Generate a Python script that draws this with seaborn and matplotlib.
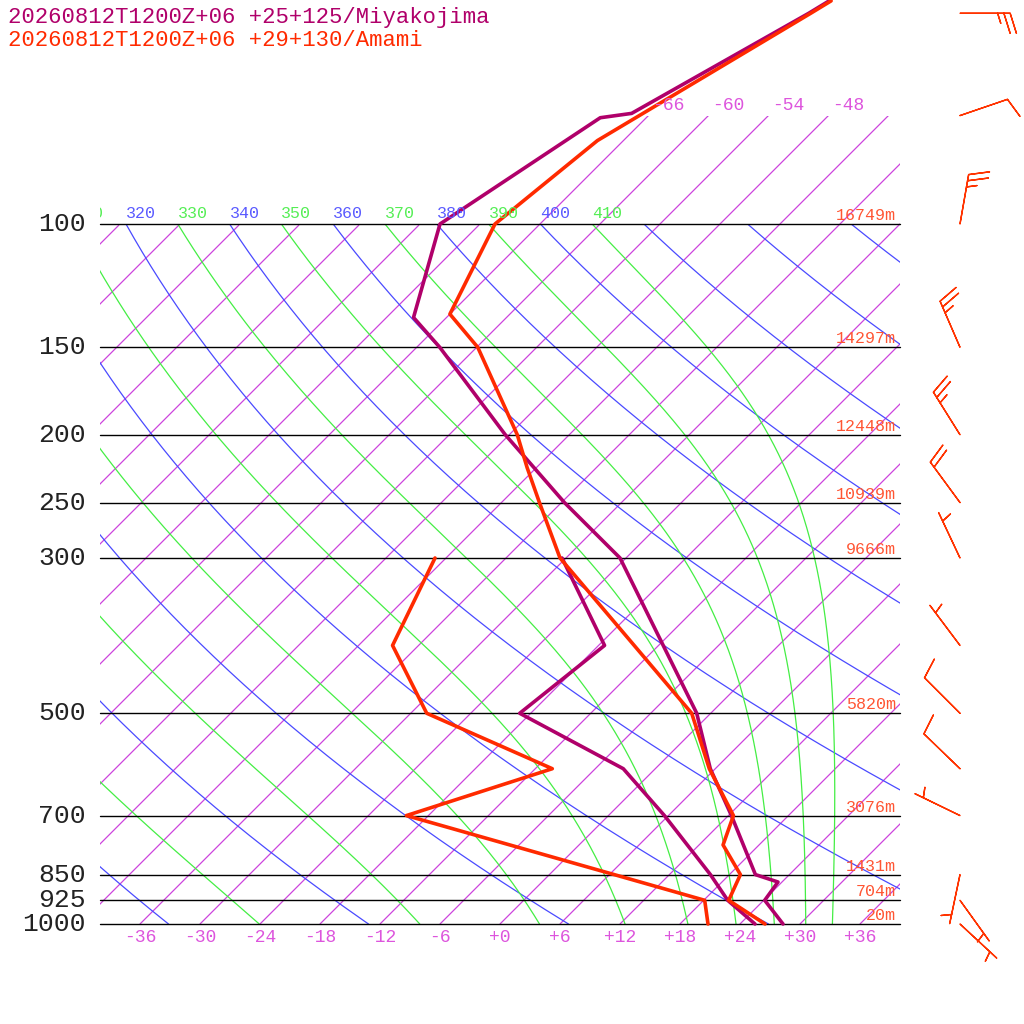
import numpy as np
import matplotlib
matplotlib.use("Agg")
import matplotlib.pyplot as plt
from matplotlib.patches import Rectangle
import seaborn as sns
import pandas as pd

# ---------------- data ----------------
miya_p = [48, 50, 69.5, 70.5, 100, 136, 150, 200, 250, 300, 500, 600, 700, 850, 871, 925, 1000]
miya_t = [-59.4, -60.2, -67.9, -70.6, -76.0, -69.3, -63.7, -48.4, -35.7, -24.6, -1.4, 5.5, 12.3, 20.6, 23.6, 24.1, 28.3]
miya_dp = [300, 400, 500, 600, 700, 850, 925, 1000]
miya_td = [-30.4, -17.4, -19.1, -3.2, 5.6, 16.1, 20.4, 25.5]

amami_p = [48, 50, 76, 100, 134.5, 150, 200, 223, 250, 300, 500, 600, 700, 771, 850, 925, 1000]
amami_t = [-59.2, -60.0, -68.6, -70.5, -66.0, -59.9, -47.2, -42.9, -38.2, -30.6, -1.9, 5.4, 12.5, 14.4, 19.1, 20.5, 26.5]
amami_dp = [300, 400, 500, 600, 700, 925, 1000]
amami_td = [-43.1, -38.6, -28.4, -10.3, -20.2, 18.1, 20.8]

levels = [100, 150, 200, 250, 300, 500, 700, 850, 925, 1000]
heights = ["16749m", "14297m", "12448m", "10939m", "9666m", "5820m", "3076m", "1431m", "704m", "20m"]
temp_ticks = [-36, -30, -24, -18, -12, -6, 0, 6, 12, 18, 24, 30, 36]
theta_labels = [310, 320, 330, 340, 350, 360, 370, 380, 390, 400, 410]

wind_p = [50, 70, 100, 150, 200, 250, 300, 400, 500, 600, 700, 850, 925, 1000]
wind_dx = [47, 38, 7, -16, -20, -22, -16, -24, -28, -29, -35, -8, 23, 28]
wind_dy = [0, 13, 40, 37, 32, 30, 34, 32, 28, 28, 17, -38, -32, -26]   # screen up
wind_kt = [25, 10, 25, 25, 25, 20, 5, 5, 10, 10, 5, 5, 5, 5]

title1 = "20260812T1200Z+06 +25+125/Miyakojima"
title2 = "20260812T1200Z+06 +29+130/Amami"

C_MIYA = "#b0006a"
C_AMAMI = "#ff2a00"
C_ISO = "#cc44dd"
C_DRY = "#4a4aff"
C_MOIST = "#44ee44"

# ---------------- coordinate helpers ----------------
def Y(p):
    return 100 + 700 * np.log10(1000.0 / np.asarray(p, float))

def X(t, p):
    return 500 + 10 * np.asarray(t, float) + 700 * np.log10(1000.0 / np.asarray(p, float))

sns.set_style("white")
plt.rcParams['font.family'] = ['Liberation Mono', 'DejaVu Sans Mono']
fig = plt.figure(figsize=(10.24, 10.24), dpi=100)
ax = fig.add_axes([0, 0, 1, 1])
ax.set_xlim(0, 1024)
ax.set_ylim(0, 1024)
ax.axis("off")

box = Rectangle((100, Y(1000)), 800, Y(100) - Y(1000), transform=ax.transData, fill=False, visible=False)
ax.add_patch(box)
box_iso = Rectangle((100, Y(1000)), 800, Y(70) - Y(1000), transform=ax.transData, fill=False, visible=False)
ax.add_patch(box_iso)

pp = np.logspace(np.log10(70), 3, 200)
# isotherms
for T in range(-126, 60, 6):
    top = 70 if T >= -66 else 100
    pr = pp[pp >= top]
    ln, = ax.plot(X(T, pr), Y(pr), color=C_ISO, lw=0.9)
    ln.set_clip_path(box_iso if T >= -66 else box)
    xe, ye = X(T, 70), Y(70)
    if T >= -66 and 100 < xe < 880:
        ax.text(xe + 4, ye + 2, f"{T:d}", color="#dd55dd", fontsize=13, ha="left", va="bottom")

# dry adiabats
pd_ = np.logspace(2, 3, 200)
for th in range(180, 640, 20):
    t = th * (pd_ / 1000.0) ** 0.2857 - 273.15
    ln, = ax.plot(X(t, pd_), Y(pd_), color=C_DRY, lw=0.9)
    ln.set_clip_path(box)

# moist adiabats (pseudo-adiabats integrated downward from 100 hPa)
def moist(theta):
    Rd, cp, Lv, eps = 287.0, 1004.0, 2.5e6, 0.622
    ps = np.logspace(2, 3, 400)
    T = theta * 0.1 ** 0.2857
    out = [T]
    for i in range(1, len(ps)):
        p = ps[i - 1]
        tc = T - 273.15
        es = 6.112 * np.exp(17.67 * tc / (tc + 243.5))
        rs = eps * es / (p - es)
        dTdp = (Rd * T + Lv * rs) / (cp + Lv * Lv * rs * eps / (Rd * T * T)) / p
        T = T + dTdp * (ps[i] - p)
        out.append(T)
    return ps, np.array(out) - 273.15

for th in range(190, 430, 20):
    ps, t = moist(th)
    ln, = ax.plot(X(t, ps), Y(ps), color=C_MOIST, lw=0.9)
    ln.set_clip_path(box)

# theta labels
clip_lab = Rectangle((100, 0), 1000, 1024, transform=ax.transData, fill=False, visible=False)
ax.add_patch(clip_lab)
for th in theta_labels:
    t = th * 0.1 ** 0.2857 - 273.15
    xl = X(t, 100) + 15
    c = "#5a5aff" if (th // 10) % 2 == 0 else "#55ee55"
    tx = ax.text(xl, Y(100) + 3, str(th), color=c, fontsize=12, ha="center", va="bottom", clip_on=True)
    tx.set_clip_path(clip_lab)

# pressure lines and labels
for p, h in zip(levels, heights):
    ax.plot([100, 900], [Y(p), Y(p)], color="black", lw=1.0)
    ax.text(86, Y(p), str(p), fontsize=19, ha="right", va="center", color="#222222")
    ax.text(896, Y(p) + 1, h, fontsize=12, ha="right", va="bottom", color="#ff5533")

for T in temp_ticks:
    lab = f"+{T}" if T >= 0 else f"{T}"
    ax.text(X(T, 1000), Y(1000) - 13, lab, color="#dd55dd", fontsize=13, ha="center", va="center")

# profiles
def prof(p, t, color):
    df = pd.DataFrame({"x": X(t, p), "y": Y(p)})
    sns.lineplot(data=df, x="x", y="y", sort=False, color=color, lw=2.6, ax=ax, estimator=None)

prof(miya_p, miya_t, C_MIYA)
prof(miya_dp, miya_td, C_MIYA)
prof(amami_p, amami_t, C_AMAMI)
prof(amami_dp, amami_td, C_AMAMI)
ax.set_xlim(0, 1024)
ax.set_ylim(0, 1024)
ax.axis("off")

# wind barbs
wp = np.array(wind_p, float)
dx = np.array(wind_dx, float); dy = np.array(wind_dy, float)
nrm = np.hypot(dx, dy)
spd = np.array(wind_kt, float)
u = -spd * dx / nrm
v = -spd * dy / nrm
ax.barbs(np.full(len(wp), 960.0), Y(wp), u, v, length=8.5, color="#ff3300", linewidth=1.0,
         sizes=dict(emptybarb=0.0))

ax.text(8, 1024 - 17, title1, color=C_MIYA, fontsize=16, ha="left", va="center")
ax.text(8, 1024 - 40, title2, color=C_AMAMI, fontsize=16, ha="left", va="center")

fig.savefig("out.png", dpi=100, facecolor="white")
